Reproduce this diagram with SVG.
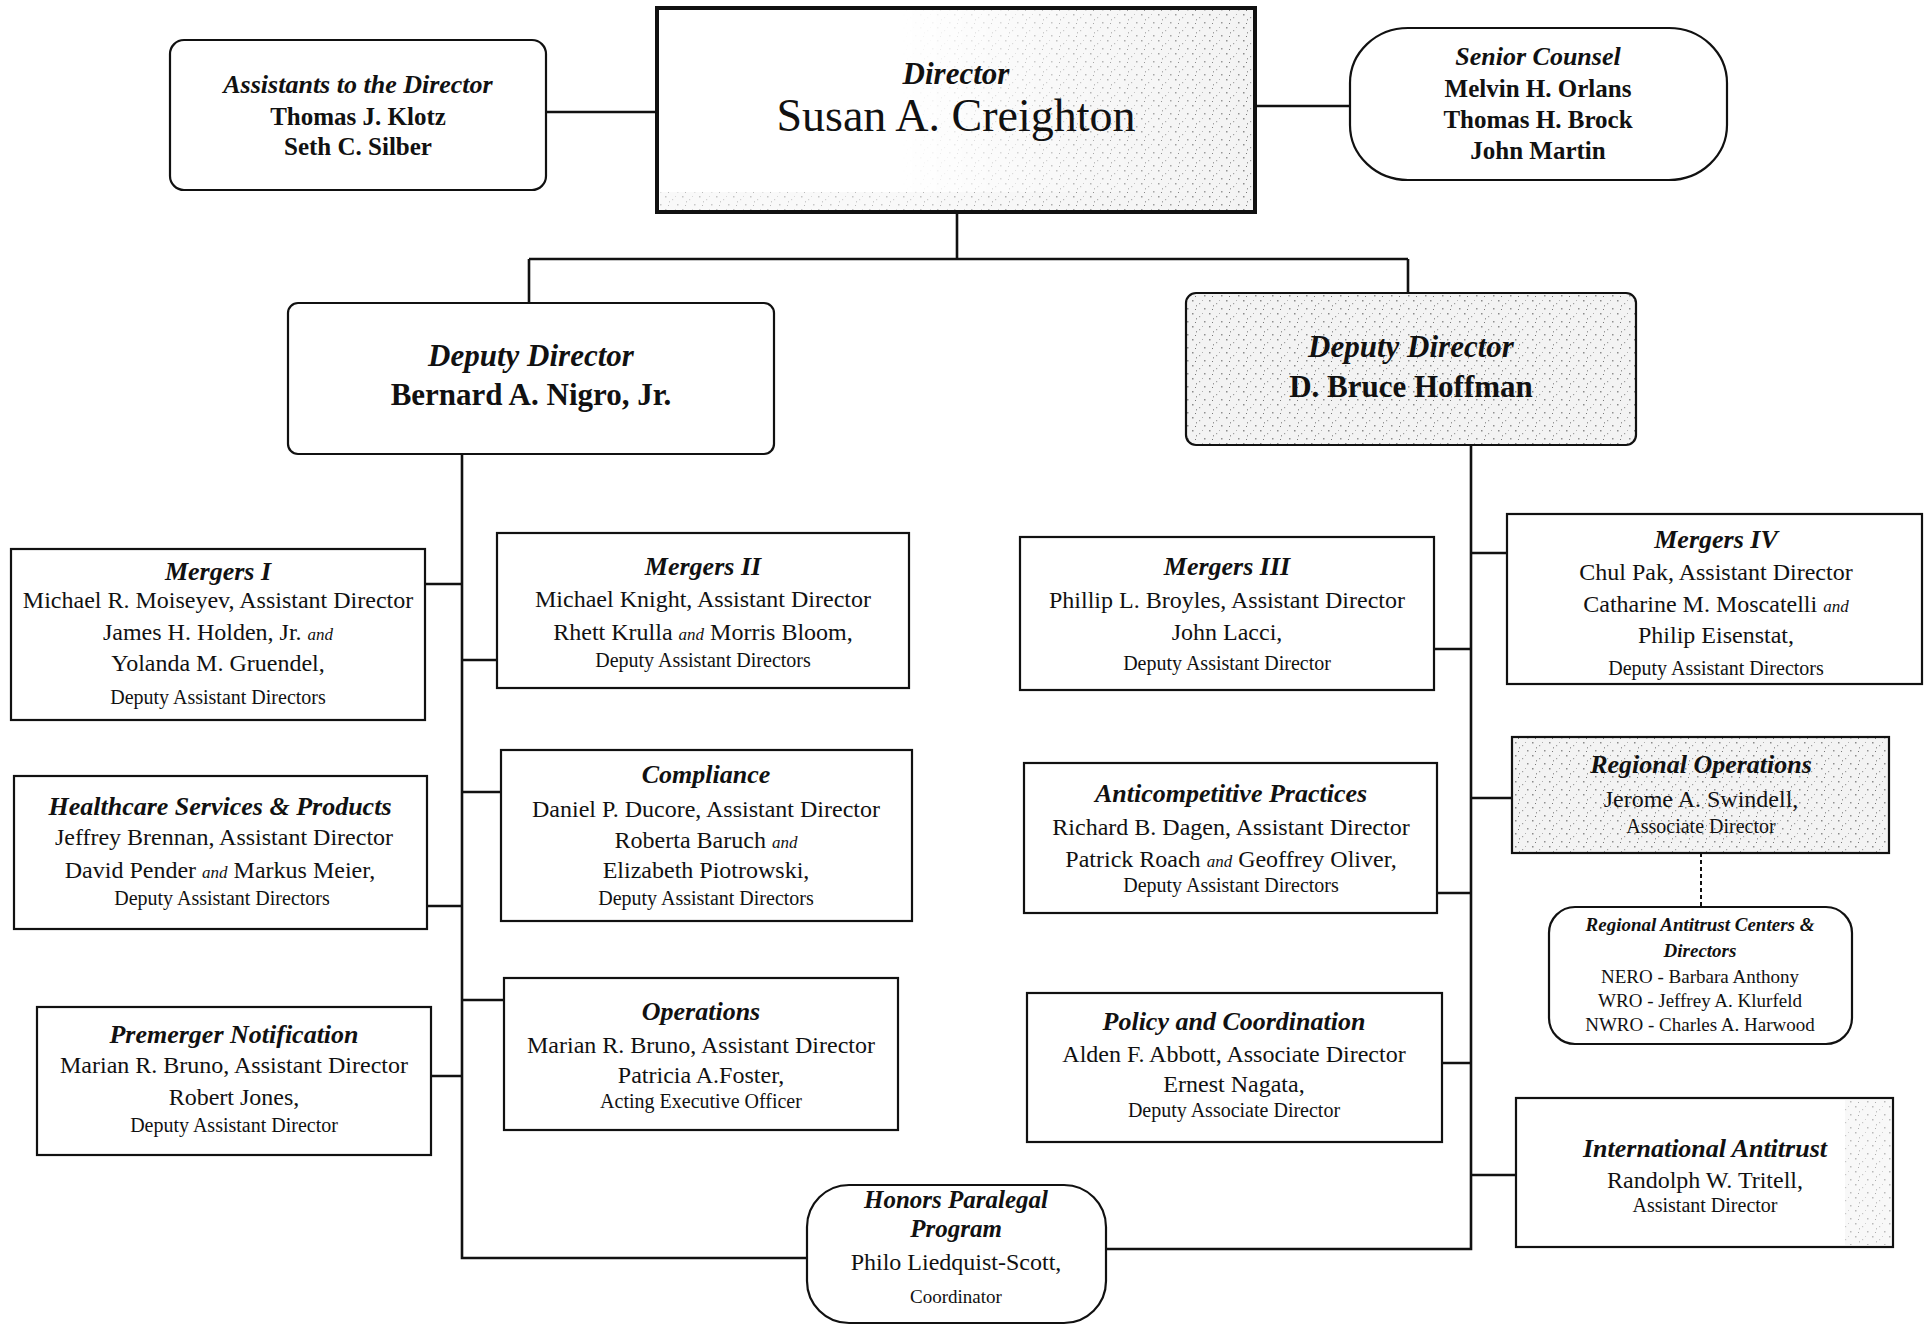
<svg xmlns="http://www.w3.org/2000/svg" width="1927" height="1325" viewBox="0 0 1927 1325">
<defs>
<pattern id="spk" width="17" height="13" patternUnits="userSpaceOnUse">
<rect width="17" height="13" fill="#f3f3f3"/>
<rect x="2" y="1" width="1.5" height="1.5" fill="#8a8a8a"/>
<rect x="9" y="4" width="1.2" height="1.2" fill="#a0a0a0"/>
<rect x="14" y="9" width="1.5" height="1.5" fill="#909090"/>
<rect x="5" y="10" width="1" height="1" fill="#777"/>
<rect x="12" y="1" width="1" height="1" fill="#b0b0b0"/>
<rect x="6" y="6" width="1" height="1.5" fill="#999"/>
</pattern>
<linearGradient id="fadeGrad" x1="0" y1="0" x2="1" y2="0">
<stop offset="0" stop-color="#fff" stop-opacity="0"/>
<stop offset="0.5" stop-color="#fff" stop-opacity="0.6"/>
<stop offset="1" stop-color="#fff" stop-opacity="1"/>
</linearGradient>
<mask id="fade" maskContentUnits="objectBoundingBox">
<rect width="1" height="1" fill="url(#fadeGrad)"/>
</mask>
<style>
.box{fill:#fff;stroke:#111;stroke-width:2.2}
.thick{stroke-width:4}
.ln{fill:none;stroke:#111;stroke-width:2.6}
.dash{fill:none;stroke:#111;stroke-width:2;stroke-dasharray:4 3}
text{font-family:"Liberation Serif","Times New Roman",serif;fill:#111;text-anchor:middle}
.t{font-size:26px;font-weight:bold;font-style:italic}
.n{font-size:24px}
.s{font-size:20px}
.a{font-size:17px;font-style:italic}
.bn{font-size:25px;font-weight:bold}
.dt{font-size:31px;font-weight:bold;font-style:italic}
.dn{font-size:31px;font-weight:bold}
</style>
</defs>
<rect width="1927" height="1325" fill="#fff"/>

<g id="connectors">
<path class="ln" d="M545 112 H657"/>
<path class="ln" d="M1255 106 H1350"/>
<path class="ln" d="M957 212 V259 M529 259 H1408 M529 259 V303 M1408 259 V293"/>
<path class="ln" d="M462 454 V1258 H807"/>
<path class="ln" d="M425 584 H462 M427 906 H462 M431 1076 H462 M462 660 H497 M462 792 H501 M462 1000 H504"/>
<path class="ln" d="M1471 445 V1249 H1106"/>
<path class="ln" d="M1434 649 H1471 M1437 893 H1471 M1442 1063 H1471 M1471 553 H1507 M1471 798 H1512 M1471 1175 H1516"/>
<path class="dash" d="M1701 853 V907"/>
</g>

<g id="assistants">
<rect class="box" x="170" y="40" width="376" height="150" rx="14"/>
<text class="t" x="358" y="93">Assistants to the Director</text>
<text class="bn" x="358" y="125">Thomas J. Klotz</text>
<text class="bn" x="358" y="155">Seth C. Silber</text>
</g>

<g id="director">
<rect class="box thick" x="657" y="8" width="598" height="204"/>
<rect x="900" y="10" width="353" height="200" fill="url(#spk)" mask="url(#fade)"/>
<rect x="660" y="192" width="590" height="18" fill="url(#spk)" opacity="0.5"/>
<text class="dt" x="956" y="84">Director</text>
<text x="956" y="131" style="font-size:46px">Susan A. Creighton</text>
</g>

<g id="senior-counsel">
<rect class="box" x="1350" y="28" width="377" height="152" rx="58" ry="55"/>
<text class="t" x="1538" y="65">Senior Counsel</text>
<text class="bn" x="1538" y="97">Melvin H. Orlans</text>
<text class="bn" x="1538" y="128">Thomas H. Brock</text>
<text class="bn" x="1538" y="159">John Martin</text>
</g>

<g id="deputy-nigro">
<rect class="box" x="288" y="303" width="486" height="151" rx="10"/>
<text class="dt" x="531" y="366">Deputy Director</text>
<text class="dn" x="531" y="405">Bernard A. Nigro, Jr.</text>
</g>

<g id="deputy-hoffman">
<rect class="box" x="1186" y="293" width="450" height="152" rx="10" style="fill:url(#spk)"/>
<text class="dt" x="1411" y="357">Deputy Director</text>
<text class="dn" x="1411" y="397">D. Bruce Hoffman</text>
</g>

<g id="mergers-1">
<rect class="box" x="11" y="549" width="414" height="171"/>
<text class="t" x="218" y="580">Mergers I</text>
<text class="n" x="218" y="608">Michael R. Moiseyev, Assistant Director</text>
<text class="n" x="218" y="640">James H. Holden, Jr. <tspan class="a">and</tspan></text>
<text class="n" x="218" y="671">Yolanda M. Gruendel,</text>
<text class="s" x="218" y="704">Deputy Assistant Directors</text>
</g>

<g id="mergers-2">
<rect class="box" x="497" y="533" width="412" height="155"/>
<text class="t" x="703" y="575">Mergers II</text>
<text class="n" x="703" y="607">Michael Knight, Assistant Director</text>
<text class="n" x="703" y="640">Rhett Krulla <tspan class="a">and</tspan> Morris Bloom,</text>
<text class="s" x="703" y="667">Deputy Assistant Directors</text>
</g>

<g id="healthcare">
<rect class="box" x="14" y="776" width="413" height="153"/>
<text class="t" x="220" y="815">Healthcare Services &amp; Products</text>
<text class="n" x="224" y="845">Jeffrey Brennan, Assistant Director</text>
<text class="n" x="220" y="878">David Pender <tspan class="a">and</tspan> Markus Meier,</text>
<text class="s" x="222" y="905">Deputy Assistant Directors</text>
</g>

<g id="compliance">
<rect class="box" x="501" y="750" width="411" height="171"/>
<text class="t" x="706" y="783">Compliance</text>
<text class="n" x="706" y="817">Daniel P. Ducore, Assistant Director</text>
<text class="n" x="706" y="848">Roberta Baruch <tspan class="a">and</tspan></text>
<text class="n" x="706" y="878">Elizabeth Piotrowski,</text>
<text class="s" x="706" y="905">Deputy Assistant Directors</text>
</g>

<g id="premerger">
<rect class="box" x="37" y="1007" width="394" height="148"/>
<text class="t" x="234" y="1043">Premerger Notification</text>
<text class="n" x="234" y="1073">Marian R. Bruno, Assistant Director</text>
<text class="n" x="234" y="1105">Robert Jones,</text>
<text class="s" x="234" y="1132">Deputy Assistant Director</text>
</g>

<g id="operations">
<rect class="box" x="504" y="978" width="394" height="152"/>
<text class="t" x="701" y="1020">Operations</text>
<text class="n" x="701" y="1053">Marian R. Bruno, Assistant Director</text>
<text class="n" x="701" y="1083">Patricia A.Foster,</text>
<text class="s" x="701" y="1108">Acting Executive Officer</text>
</g>

<g id="honors">
<rect class="box" x="807" y="1185" width="299" height="138" rx="42"/>
<text class="t" x="956" y="1208" style="font-size:25px">Honors Paralegal</text>
<text class="t" x="956" y="1237" style="font-size:25px">Program</text>
<text class="n" x="956" y="1270">Philo Liedquist-Scott,</text>
<text class="s" x="956" y="1303" style="font-size:19px">Coordinator</text>
</g>

<g id="mergers-3">
<rect class="box" x="1020" y="537" width="414" height="153"/>
<text class="t" x="1227" y="575">Mergers III</text>
<text class="n" x="1227" y="608">Phillip L. Broyles, Assistant Director</text>
<text class="n" x="1227" y="640">John Lacci,</text>
<text class="s" x="1227" y="670">Deputy Assistant Director</text>
</g>

<g id="mergers-4">
<rect class="box" x="1507" y="514" width="415" height="170"/>
<text class="t" x="1716" y="548">Mergers IV</text>
<text class="n" x="1716" y="580">Chul Pak, Assistant Director</text>
<text class="n" x="1716" y="612">Catharine M. Moscatelli <tspan class="a">and</tspan></text>
<text class="n" x="1716" y="643">Philip Eisenstat,</text>
<text class="s" x="1716" y="675">Deputy Assistant Directors</text>
</g>

<g id="anticompetitive">
<rect class="box" x="1024" y="763" width="413" height="150"/>
<text class="t" x="1231" y="802">Anticompetitive Practices</text>
<text class="n" x="1231" y="835">Richard B. Dagen, Assistant Director</text>
<text class="n" x="1231" y="867">Patrick Roach <tspan class="a">and</tspan> Geoffrey Oliver,</text>
<text class="s" x="1231" y="892">Deputy Assistant Directors</text>
</g>

<g id="policy">
<rect class="box" x="1027" y="993" width="415" height="149"/>
<text class="t" x="1234" y="1030">Policy and Coordination</text>
<text class="n" x="1234" y="1062">Alden F. Abbott, Associate Director</text>
<text class="n" x="1234" y="1092">Ernest Nagata,</text>
<text class="s" x="1234" y="1117">Deputy Associate Director</text>
</g>

<g id="regional-operations">
<rect class="box" x="1512" y="737" width="377" height="116" style="fill:url(#spk)"/>
<text class="t" x="1701" y="773">Regional Operations</text>
<text class="n" x="1701" y="807">Jerome A. Swindell,</text>
<text class="s" x="1701" y="833">Associate Director</text>
</g>

<g id="regional-centers">
<rect class="box" x="1549" y="907" width="303" height="137" rx="26"/>
<text class="t" x="1700" y="931" style="font-size:19px">Regional Antitrust Centers &amp;</text>
<text class="t" x="1700" y="957" style="font-size:19px">Directors</text>
<text class="s" x="1700" y="983" style="font-size:19px">NERO - Barbara Anthony</text>
<text class="s" x="1700" y="1007" style="font-size:19px">WRO - Jeffrey A. Klurfeld</text>
<text class="s" x="1700" y="1031" style="font-size:19px">NWRO - Charles A. Harwood</text>
</g>

<g id="international">
<rect class="box" x="1516" y="1098" width="377" height="149"/>
<rect x="1845" y="1100" width="46" height="145" fill="url(#spk)" opacity="0.6"/>
<text class="t" x="1705" y="1157">International Antitrust</text>
<text class="n" x="1705" y="1188">Randolph W. Tritell,</text>
<text class="s" x="1705" y="1212">Assistant Director</text>
</g>
</svg>
